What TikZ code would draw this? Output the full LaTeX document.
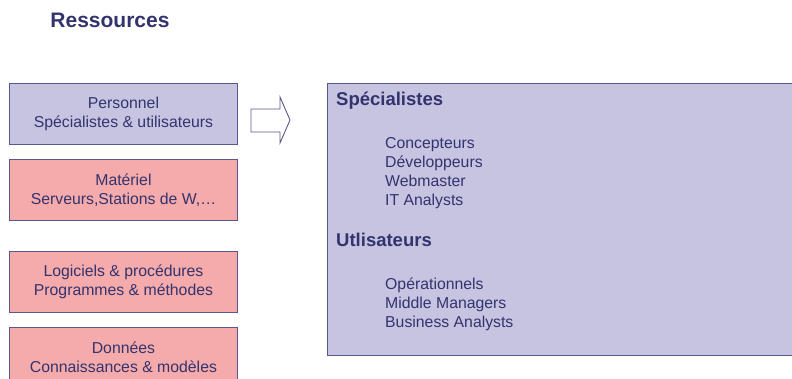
\documentclass[tikz,border=0pt]{standalone}
\usepackage{fontspec}
\setmainfont{Liberation Sans}
\usepackage{tikz}
\usetikzlibrary{positioning}

\definecolor{encre}{RGB}{51,51,110}
\definecolor{trait}{RGB}{88,88,140}
\definecolor{lavande}{RGB}{199,196,226}
\definecolor{saumon}{RGB}{245,170,171}

\begin{document}
\begin{tikzpicture}[
    x=1pt, y=-1pt,
    every node/.style={text=encre},
    ressource/.style={rectangle, draw=trait, line width=0.9pt, minimum width=228pt, minimum height=61pt, align=center, font=\fontsize{15.8}{19}\selectfont},
    titre/.style={font=\bfseries\fontsize{21}{25}\selectfont},
    rubrique/.style={anchor=base west, inner sep=0pt, font=\bfseries\fontsize{18.5}{22}\selectfont},
    membre/.style={anchor=base west, inner sep=0pt, font=\fontsize{15.8}{19}\selectfont}
]
\useasboundingbox (0,0) rectangle (792,379);
\clip (0,0) rectangle (792,379);

% Title
\node[titre] (titre) at (110,20) {Ressources};

% Ressources
\node[ressource, fill=lavande, anchor=north west] (personnel) at (9,83) {Personnel\\Spécialistes \& utilisateurs};
\node[ressource, fill=saumon, below=14pt of personnel] (materiel) {Matériel\\Serveurs,Stations de W,…};
\node[ressource, fill=saumon, below=30pt of materiel] (logiciels) {Logiciels \& procédures\\Programmes \& méthodes};
\node[ressource, fill=saumon, below=14pt of logiciels] (donnees) {Données\\Connaissances \& modèles};

% Block arrow
\draw[trait, fill=white, line width=0.9pt] (251,109) -- (280,109) -- (280,97) -- (290,120)
    -- (280,143) -- (280,132) -- (251,132) -- cycle;

% Personnel detail
\node[rectangle, draw=trait, fill=lavande, line width=0.9pt, minimum width=480pt, minimum height=272pt, anchor=north west] (detail) at (327,83) {};

\node[rubrique] (specialistes) at (336,106) {Spécialistes};
\node[membre] (concepteurs) at (385,149) {Concepteurs};
\node[membre] (developpeurs) at (385,168) {Développeurs};
\node[membre] (webmaster) at (385,187) {Webmaster};
\node[membre] (itanalysts) at (385,206) {IT Analysts};

\node[rubrique] (utilisateurs) at (336,247) {Utlisateurs};
\node[membre] (operationnels) at (385,289) {Opérationnels};
\node[membre] (middle) at (385,308) {Middle Managers};
\node[membre] (business) at (385,327) {Business Analysts};

\end{tikzpicture}
\end{document}
